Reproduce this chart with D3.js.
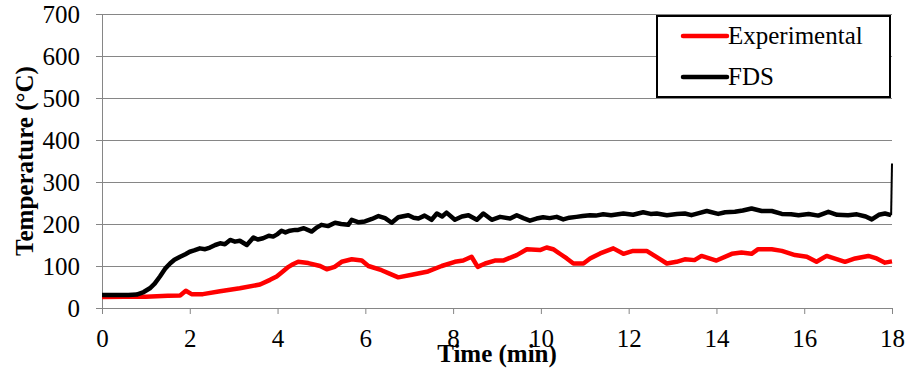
<!DOCTYPE html>
<html>
<head>
<meta charset="utf-8">
<script src="https://cdn.jsdelivr.net/npm/d3@7"></script>
<style>
  body { margin: 0; background: #fff; }
  svg text { font-family: "Times New Roman", Tinos, "Liberation Serif", "DejaVu Serif", serif !important; fill: #000; }
</style>
</head>
<body>
<svg id="chart" width="917" height="372"></svg>
<script>
// time axis ticks (min) and temperature ticks (C)
const xTicks = [0, 2, 4, 6, 8, 10, 12, 14, 16, 18]
const yTicks = [0, 100, 200, 300, 400, 500, 600, 700]

const seriesNames = ['Experimental', 'FDS']

// experimental thermocouple reading
const expTime = [
  0, 0.5, 1.0, 1.5, 1.78, 1.91, 2.04, 2.3, 2.69, 3.14,
  3.6, 3.83, 3.98, 4.12, 4.25, 4.35, 4.47, 4.7, 4.97, 5.12,
  5.3, 5.46, 5.69, 5.92, 6.07, 6.37, 6.55, 6.75, 7.06, 7.43,
  7.74, 8.04, 8.23, 8.42, 8.56, 8.73, 8.95, 9.14, 9.45, 9.68,
  9.98, 10.13, 10.28, 10.45, 10.59, 10.74, 10.97, 11.12, 11.35, 11.65,
  11.88, 12.1, 12.41, 12.64, 12.87, 13.09, 13.28, 13.5, 13.66, 14.0,
  14.35, 14.57, 14.8, 14.95, 15.26, 15.49, 15.79, 16.06, 16.28, 16.51,
  16.93, 17.16, 17.46, 17.65, 17.84, 18.0
]
const expTemp = [
  26, 27, 27, 29, 30, 41, 33, 33, 40, 47,
  56, 67, 75, 87, 98, 104, 110, 107, 100, 92,
  98, 110, 116, 113, 100, 90, 82, 73, 79, 87,
  100, 110, 113, 122, 98, 106, 113, 113, 126, 140,
  138, 144, 140, 128, 118, 106, 106, 118, 130, 142,
  129, 136, 136, 121, 106, 110, 116, 114, 124, 113,
  129, 132, 129, 140, 140, 136, 126, 122, 110, 124,
  110, 118, 124, 118, 108, 111
]

// FDS simulation
const fdsTime = [
  0, 0.3, 0.6, 0.79, 0.95, 1.09, 1.2, 1.32, 1.45, 1.55,
  1.65, 1.78, 1.9, 2.0, 2.1, 2.23, 2.35, 2.46, 2.58, 2.69,
  2.8, 2.92, 3.03, 3.14, 3.3, 3.45, 3.55, 3.67, 3.8, 3.9,
  4.0, 4.09, 4.18, 4.28, 4.4, 4.47, 4.6, 4.78, 4.9, 5.0,
  5.15, 5.31, 5.45, 5.61, 5.69, 5.85, 5.99, 6.15, 6.3, 6.45,
  6.6, 6.75, 6.98, 7.1, 7.21, 7.35, 7.51, 7.63, 7.75, 7.85,
  8.04, 8.2, 8.35, 8.54, 8.69, 8.88, 9.07, 9.3, 9.45, 9.6,
  9.75, 9.9, 10.05, 10.2, 10.36, 10.51, 10.65, 10.81, 10.95, 11.12,
  11.25, 11.42, 11.6, 11.88, 12.1, 12.33, 12.5, 12.64, 12.87, 13.1,
  13.28, 13.43, 13.6, 13.78, 14.04, 14.2, 14.42, 14.6, 14.8, 15.03,
  15.26, 15.49, 15.7, 15.87, 16.1, 16.32, 16.55, 16.75, 17.0, 17.2,
  17.4, 17.54, 17.7, 17.84, 17.98, 18.0
]
const fdsTemp = [
  31, 31, 31, 32, 38, 47, 58, 75, 95, 106,
  115, 122, 128, 134, 137, 142, 140, 144, 150, 154,
  152, 162, 158, 160, 150, 168, 163, 166, 172, 170,
  176, 184, 180, 184, 186, 186, 190, 182, 192, 198,
  195, 203, 200, 198, 210, 204, 206, 212, 219, 214,
  203, 216, 221, 215, 213, 220, 210, 225, 218, 227,
  210, 218, 221, 210, 225, 210, 217, 213, 221, 214,
  208, 213, 216, 214, 217, 211, 215, 217, 219, 221,
  220, 223, 221, 225, 222, 228, 224, 225, 221, 224,
  225, 221, 226, 231, 224, 228, 229, 232, 237, 231,
  231, 224, 223, 221, 224, 220, 229, 222, 221, 223,
  218, 211, 222, 225, 221, 344
]

const width = 917
const height = 372
const margin = {top: 14, right: 25, bottom: 64, left: 102}
const gridColor = '#868686'
const serif = '"Times New Roman", Tinos, "Liberation Serif", "DejaVu Serif", serif'
const fontSize = 25

const svg = d3.select('#chart')

const x = d3.scaleLinear()
            .domain([0, 18])
            .range([margin.left, width - margin.right])
const y = d3.scaleLinear()
            .domain([0, 700])
            .range([height - margin.bottom, margin.top])

// horizontal gridlines + y axis
const yAxis = d3.axisLeft(y)
                .tickValues(yTicks)
                .tickSize(-(width - margin.left - margin.right))
                .tickPadding(15)
const gy = svg.append('g')
  .attr('transform', `translate(${margin.left},0)`)
  .call(yAxis)
  .attr('font-family', serif)
gy.select('.domain').attr('stroke', gridColor)
gy.selectAll('.tick line')
  .attr('stroke', gridColor)
  .attr('x1', -6)
gy.selectAll('.tick text')
  .attr('font-size', fontSize)
  .attr('x', -22)

// x axis
const xAxis = d3.axisBottom(x)
                .tickValues(xTicks)
                .tickSize(6)
                .tickPadding(15)
const gx = svg.append('g')
  .attr('transform', `translate(0,${height - margin.bottom})`)
  .call(xAxis)
  .attr('font-family', serif)
gx.select('.domain').attr('stroke', gridColor)
gx.selectAll('.tick line').attr('stroke', gridColor)
gx.selectAll('.tick text')
  .attr('font-size', fontSize)

// lines
const line = d3.line()
               .x(d => x(d[0]))
               .y(d => y(d[1]))

const expData = expTime.map((t, i) => [t, expTemp[i]])
const fdsData = fdsTime.map((t, i) => [t, fdsTemp[i]])

svg.append('path')
  .attr('d', line(expData))
  .attr('fill', 'none')
  .attr('stroke', '#ff0000')
  .attr('stroke-width', 4.5)
  .attr('stroke-linejoin', 'round')

svg.append('path')
  .attr('d', line(fdsData.slice(0, -1)))
  .attr('fill', 'none')
  .attr('stroke', '#000')
  .attr('stroke-width', 4.5)
  .attr('stroke-linejoin', 'round')

// the last jump at t = 18 is drawn thin in the original
svg.append('path')
  .attr('d', line(fdsData.slice(-2)))
  .attr('fill', 'none')
  .attr('stroke', '#000')
  .attr('stroke-width', 2)

// axis titles
svg.append('text')
  .attr('x', (margin.left + width - margin.right) / 2)
  .attr('y', 362)
  .attr('text-anchor', 'middle')
  .attr('font-family', serif)
  .attr('font-size', fontSize)
  .attr('font-weight', 'bold')
  .text('Time (min)')

svg.append('text')
  .attr('transform', `translate(33,${(margin.top + height - margin.bottom) / 2}) rotate(-90)`)
  .attr('text-anchor', 'middle')
  .attr('font-family', serif)
  .attr('font-size', fontSize)
  .attr('font-weight', 'bold')
  .text('Temperature (°C)')

// legend
const legend = svg.append('g').attr('transform', 'translate(657,16)')
legend.append('rect')
  .attr('width', 233)
  .attr('height', 81)
  .attr('fill', '#fff')
  .attr('stroke', '#000')
  .attr('stroke-width', 2)

const legendColors = ['#ff0000', '#000']
seriesNames.forEach((name, i) => {
  const ly = 20 + i * 41
  legend.append('line')
    .attr('x1', 26).attr('x2', 70)
    .attr('y1', ly).attr('y2', ly)
    .attr('stroke', legendColors[i])
    .attr('stroke-width', 4.5)
    .attr('stroke-linecap', 'round')
  legend.append('text')
    .attr('x', 71)
    .attr('y', ly + 8)
    .attr('font-family', serif)
    .attr('font-size', fontSize)
    .text(name)
})
</script>
</body>
</html>
